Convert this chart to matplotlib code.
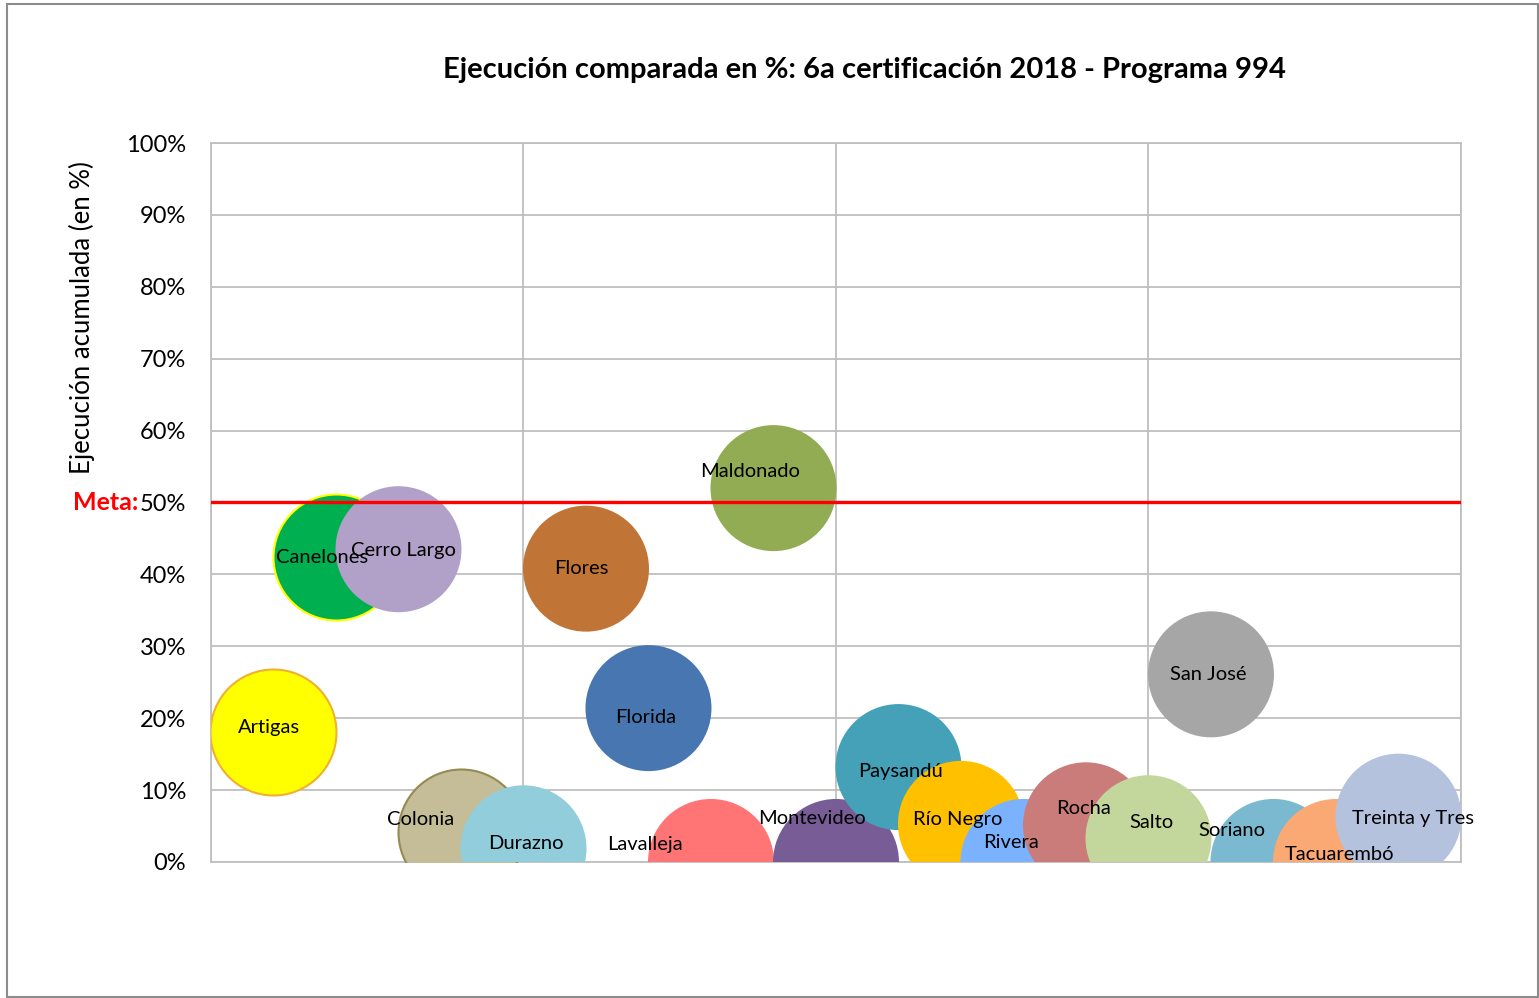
import matplotlib.pyplot as plt
from matplotlib.patches import Rectangle
from matplotlib.transforms import blended_transform_factory

plt.rcParams['font.family'] = ['Lato', 'DejaVu Sans']

departamentos = ["Artigas", "Canelones", "Cerro Largo", "Colonia", "Durazno", "Flores",
                 "Florida", "Lavalleja", "Maldonado", "Montevideo", "Paysandú", "Río Negro",
                 "Rivera", "Rocha", "Salto", "San José", "Soriano", "Tacuarembó", "Treinta y Tres"]
posicion = list(range(1, 20))
ejecucion = [18.1, 42.4, 43.5, 4.2, 1.9, 40.8, 21.4, 0.0, 52.0, 0.0,
             13.2, 5.3, 0.0, 5.1, 3.3, 26.1, 0.0, 0.0, 6.3]
meta = 50

colores = ["#FFFF00", "#00B050", "#B1A0C7", "#C4BD97", "#92CDDC", "#C07536",
           "#4876B0", "#FF7575", "#92AC53", "#775C96", "#45A1B8", "#FFC000",
           "#7AB2FF", "#C97C7A", "#C3D69B", "#A6A6A6", "#7AB9CF", "#FAA975", "#B5C2DE"]
bordes = {"Artigas": "#F0B030", "Canelones": "#FFFF00", "Colonia": "#948A54"}
# label offsets from bubble centre, in pixels (x right, y down)
offsets = [(-4, -4), (-14, 0), (5, 1), (-40, -12), (2, -5), (-5, 0), (-3, 9),
           (-66, -17), (-23, -17), (-24, -43), (2, 4), (-3, -4), (-12, -19),
           (-2, -17), (3, -16), (-3, 0), (-42, -31), (4, -7), (15, 2)]

dpi = 100
fig = plt.figure(figsize=(15.39, 9.98), dpi=dpi)
ax = fig.add_axes([0.1371, 0.1363, 0.8122, 0.7204])

grid_c = "#BFBFBF"
s = (126 * 72 / dpi) ** 2
for i, d in enumerate(departamentos):
    ec = bordes.get(d, "none")
    ax.scatter(posicion[i], ejecucion[i], s=s, color=colores[i], edgecolors=ec,
               linewidths=1.5 if ec != "none" else 0, zorder=3 + i * 0.01)

for i, d in enumerate(departamentos):
    dx, dy = offsets[i]
    ax.annotate(d, (posicion[i], ejecucion[i]), xytext=(dx * 72 / dpi, -dy * 72 / dpi),
                textcoords="offset points", ha="center", va="center", fontsize=14.5,
                color="black", zorder=10, annotation_clip=False)

ax.axhline(meta, color="#FF0000", lw=2.4, zorder=5)

ax.set_xlim(0, 20)
ax.set_ylim(0, 100)
ax.set_xticks([0, 5, 10, 15, 20])
ax.set_yticks(range(0, 101, 10))
ax.set_yticklabels([f"{v}%" for v in range(0, 101, 10)], fontsize=17)
ax.tick_params(axis="x", length=0, labelbottom=False)
ax.tick_params(axis="y", length=0, pad=18)
ax.grid(True, color=grid_c, lw=1.3, zorder=0)
ax.set_axisbelow(True)
for sp in ax.spines.values():
    sp.set_color(grid_c)
    sp.set_linewidth(1.3)

trans = blended_transform_factory(ax.transAxes, ax.transData)
ax.text(-0.058, meta, "Meta:", transform=trans, ha="right", va="center",
        color="#FF0000", fontsize=18, fontweight="bold")

fig.text(864 / 1539, 1 - 70 / 998, "Ejecución comparada en %: 6a certificación 2018 - Programa 994",
         ha="center", va="center", fontsize=21, fontweight="bold")
fig.text(82 / 1539, 1 - 318 / 998, "Ejecución acumulada (en %)", rotation=90,
         ha="center", va="center", fontsize=18.5)

fig.patches.append(Rectangle((7 / 1539, 1 / 998), 1 - 8 / 1539, 1 - 5 / 998,
                             transform=fig.transFigure, fill=False,
                             edgecolor="#8C8C8C", lw=1.5))

fig.savefig("out.png", dpi=dpi)
